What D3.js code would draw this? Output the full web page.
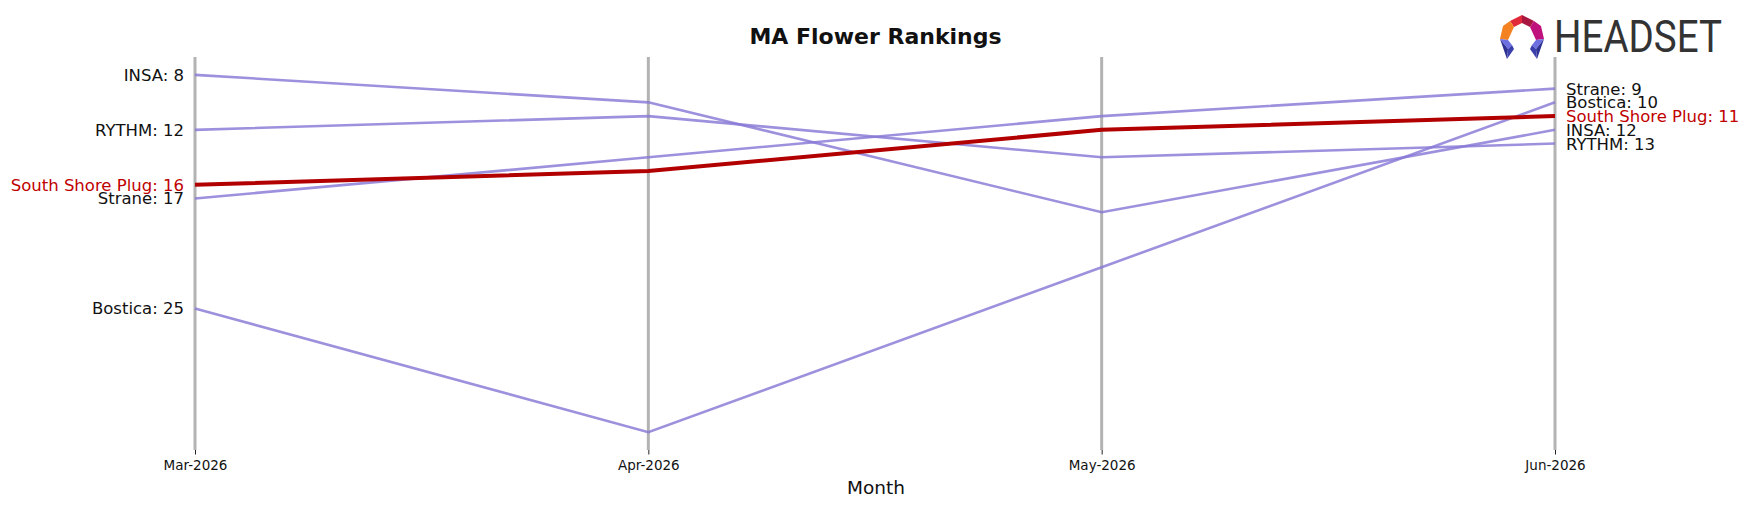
<!DOCTYPE html>
<html>
<head>
<meta charset="utf-8">
<script src="https://cdn.jsdelivr.net/npm/d3@7"></script>
<style>
  body { margin: 0; background: #fff; }
  text { font-family: "DejaVu Sans", sans-serif; }
</style>
</head>
<body>
<div id="container"></div>
<script>
var months = ["Mar-2026", "Apr-2026", "May-2026", "Jun-2026"];
var brands = ["INSA", "RYTHM", "South Shore Plug", "Strane", "Bostica"];
var insaRanks = [8, 10, 18, 12];
var rythmRanks = [12, 11, 14, 13];
var southShoreRanks = [16, 15, 12, 11];
var straneRanks = [17, 14, 11, 9];
var bosticaRanks = [25, 34, 22, 10];
var highlight = "South Shore Plug";

var series = [
  { name: "INSA", ranks: insaRanks },
  { name: "RYTHM", ranks: rythmRanks },
  { name: "Strane", ranks: straneRanks },
  { name: "Bostica", ranks: bosticaRanks },
  { name: "South Shore Plug", ranks: southShoreRanks }
];

var width = 1750, height = 507;

var svg = d3.select("#container").append("svg")
    .attr("width", width)
    .attr("height", height);

var x = d3.scalePoint()
    .domain(months)
    .range([195, 1555]);

var y = d3.scaleLinear()
    .domain([6.7, 35.3])
    .range([57, 450]);

// vertical month lines
svg.selectAll(".vline")
    .data(months)
  .enter().append("line")
    .attr("class", "vline")
    .attr("x1", function(d) { return x(d); })
    .attr("x2", function(d) { return x(d); })
    .attr("y1", 57)
    .attr("y2", 450)
    .attr("stroke", "#b3b3b3")
    .attr("stroke-width", 3);

// x axis, ticks only
var xAxis = svg.append("g")
    .attr("transform", "translate(0,450)")
    .call(d3.axisBottom(x).tickSize(4.5).tickPadding(6));
xAxis.select(".domain").remove();
xAxis.selectAll(".tick line").attr("stroke", "#222").attr("stroke-width", 1);
xAxis.selectAll(".tick text")
    .attr("font-size", "13.5px")
    .attr("fill", "#111")
    .style("font-family", "DejaVu Sans, sans-serif");

svg.append("text")
    .attr("x", 876)
    .attr("y", 494)
    .attr("text-anchor", "middle")
    .attr("font-size", "18.5px")
    .attr("fill", "#111")
    .text("Month");

svg.append("text")
    .attr("x", 875.5)
    .attr("y", 44)
    .attr("text-anchor", "middle")
    .attr("font-size", "22px")
    .attr("font-weight", "bold")
    .attr("fill", "#111")
    .text("MA Flower Rankings");

var line = d3.line()
    .x(function(d, i) { return x(months[i]); })
    .y(function(d) { return y(d); });

svg.selectAll(".rank")
    .data(series)
  .enter().append("path")
    .attr("class", "rank")
    .attr("d", function(s) { return line(s.ranks); })
    .attr("fill", "none")
    .attr("stroke", function(s) { return s.name === highlight ? "#b20000" : "#8878d6"; })
    .attr("stroke-opacity", function(s) { return s.name === highlight ? 1 : 0.82; })
    .attr("stroke-width", function(s) { return s.name === highlight ? 4 : 2.6; });

// labels at first and last month
svg.selectAll(".lbl-left")
    .data(series)
  .enter().append("text")
    .attr("x", x(months[0]) - 11)
    .attr("y", function(s) { return y(s.ranks[0]); })
    .attr("dy", "0.36em")
    .attr("text-anchor", "end")
    .attr("font-size", "16.5px")
    .attr("fill", function(s) { return s.name === highlight ? "#c00000" : "#111"; })
    .text(function(s) { return s.name + ": " + s.ranks[0]; });

svg.selectAll(".lbl-right")
    .data(series)
  .enter().append("text")
    .attr("x", x(months[3]) + 11)
    .attr("y", function(s) { return y(s.ranks[3]); })
    .attr("dy", "0.36em")
    .attr("text-anchor", "start")
    .attr("font-size", "16.5px")
    .attr("fill", function(s) { return s.name === highlight ? "#c00000" : "#111"; })
    .text(function(s) { return s.name + ": " + s.ranks[3]; });

// HEADSET logo
var logo = svg.append("g").attr("transform", "translate(1500,15)");
var pieces = [
  { pts: [[22,0],[10,6],[14,12],[22,8]], c: "#e02a3a" },
  { pts: [[22,0],[34,6],[30,12],[22,8]], c: "#a8173f" },
  { pts: [[10,6],[3,11],[0,24],[8,25],[14,12]], c: "#f58220" },
  { pts: [[34,6],[41,11],[44,24],[36,25],[30,12]], c: "#c0127d" },
  { pts: [[0,24],[8,25],[12,30],[8,34]], c: "#6d6fe0" },
  { pts: [[44,24],[36,25],[32,30],[36,34]], c: "#6d6fe0" },
  { pts: [[0,24],[8,34],[7,44]], c: "#2d3192" },
  { pts: [[44,24],[36,34],[37,44]], c: "#2d3192" },
  { pts: [[8,34],[12,30],[14,34],[7,44]], c: "#3b3fae" },
  { pts: [[36,34],[32,30],[30,34],[37,44]], c: "#3b3fae" }
];
logo.selectAll("polygon")
    .data(pieces)
  .enter().append("polygon")
    .attr("points", function(p) { return p.pts.map(function(q) { return q.join(","); }).join(" "); })
    .attr("fill", function(p) { return p.c; });

svg.append("text")
    .attr("x", 1554)
    .attr("y", 52)
    .attr("font-size", "44px")
    .attr("fill", "#333")
    .attr("textLength", 168)
    .attr("lengthAdjust", "spacingAndGlyphs")
    .style("font-family", "Roboto, Liberation Sans, sans-serif")
    .text("HEADSET");
</script>
</body>
</html>
